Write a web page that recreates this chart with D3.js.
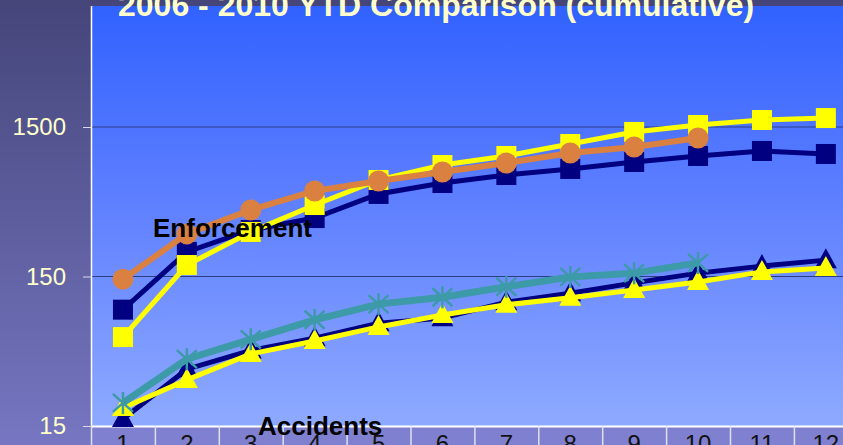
<!DOCTYPE html>
<html>
<head>
<meta charset="utf-8">
<script src="https://cdn.jsdelivr.net/npm/d3@7"></script>
<style>
  body { margin: 0; background: #4a4a7c; }
  svg { display: block; font-family: "Liberation Sans", Arial, sans-serif; }
</style>
</head>
<body>
<script>
// Data (log scale, cumulative counts by month)
const months = [1, 2, 3, 4, 5, 6, 7, 8, 9, 10, 11, 12];
const yTicks = [15, 150, 1500];

const enforcementNavy = [90, 219, 307, 369, 535, 633, 716, 786, 875, 960, 1037, 990];
const enforcementYellow = [59, 179, 298, 451, 663, 835, 960, 1154, 1390, 1547, 1671, 1722];
const enforcementOrange = [144, 289, 418, 560, 653, 750, 861, 1005, 1103, 1266];

const accidentsNavy = [16.7, 36, 48, 58, 73, 79, 101, 116, 136, 158, 176, 193];
const accidentsYellow = [19.8, 30.5, 45.5, 55.5, 69, 83, 97, 108, 122, 138, 161, 171];
const accidentsTeal = [21.4, 42, 57, 77, 98, 109, 128, 149, 158, 185];

const width = 843, height = 445;
const plot = { left: 91, top: 6, bottom: 426 };

const svg = d3.select("body").append("svg")
    .attr("width", width)
    .attr("height", height);

// Gradients
const defs = svg.append("defs");
const outerGrad = defs.append("linearGradient")
    .attr("id", "outerGrad").attr("x1", 0).attr("y1", 0).attr("x2", 0).attr("y2", 1);
outerGrad.append("stop").attr("offset", "0%").attr("stop-color", "#45457a");
outerGrad.append("stop").attr("offset", "100%").attr("stop-color", "#7676c2");

const plotGrad = defs.append("linearGradient")
    .attr("id", "plotGrad").attr("x1", 0).attr("y1", 0).attr("x2", 0).attr("y2", 1);
plotGrad.append("stop").attr("offset", "0%").attr("stop-color", "#3162ff");
plotGrad.append("stop").attr("offset", "45%").attr("stop-color", "#5d7eff");
plotGrad.append("stop").attr("offset", "100%").attr("stop-color", "#8eaaff");

defs.append("clipPath").attr("id", "plotClip")
    .append("rect").attr("x", plot.left).attr("y", 0)
    .attr("width", width - plot.left).attr("height", height);

// Background
svg.append("rect")
    .attr("width", width).attr("height", height)
    .attr("fill", "url(#outerGrad)");

svg.append("rect")
    .attr("x", plot.left).attr("y", plot.top)
    .attr("width", width - plot.left).attr("height", plot.bottom - plot.top)
    .attr("fill", "url(#plotGrad)");

// Category band below the axis
svg.append("rect")
    .attr("x", plot.left).attr("y", plot.bottom)
    .attr("width", width - plot.left).attr("height", height - plot.bottom)
    .attr("fill", "#8080d0");

// Scales
const xScale = d3.scaleBand()
    .domain(months)
    .range([plot.left, plot.left + 12 * 63.9]);

const yScale = d3.scaleLog()
    .domain([15, 15000])
    .range([plot.bottom, -22.5]);

const cx = d => xScale(d) + xScale.bandwidth() / 2;

// Gridlines
svg.append("g")
    .selectAll("line")
    .data(yTicks.slice(1))
    .join("line")
    .attr("x1", plot.left).attr("x2", width)
    .attr("y1", d => yScale(d)).attr("y2", d => yScale(d))
    .attr("stroke", "#2c3c86")
    .attr("stroke-width", 1.2);

// Y axis
const yAxis = svg.append("g")
    .attr("transform", `translate(${plot.left},0)`)
    .call(d3.axisLeft(yScale).tickValues(yTicks).tickFormat(d3.format("d")).tickSize(8).tickPadding(17));
yAxis.select(".domain").attr("stroke", "#ffffff").attr("stroke-width", 1.5)
    .attr("d", `M0.5,${plot.top}V${plot.bottom}`);
yAxis.selectAll(".tick line").attr("stroke", "#d8d8e8");
yAxis.selectAll(".tick text")
    .attr("fill", "#ffffcc")
    .style("font-size", "24px")
    .style("font-family", "Liberation Sans, Arial, sans-serif");

// X axis (band separators extend down)
const xAxis = svg.append("g")
    .attr("transform", `translate(0,${plot.bottom})`)
    .call(d3.axisBottom(xScale).tickSize(0).tickPadding(9));
xAxis.select(".domain").attr("stroke", "#ffffff").attr("stroke-width", 2);
xAxis.selectAll(".tick text")
    .attr("fill", "#111111")
    .style("font-size", "24px")
    .style("font-family", "Liberation Sans, Arial, sans-serif");
svg.append("g")
    .selectAll("line")
    .data(months)
    .join("line")
    .attr("x1", d => xScale(d) + 0.5).attr("x2", d => xScale(d) + 0.5)
    .attr("y1", plot.bottom).attr("y2", height)
    .attr("stroke", "#e0e0f0")
    .attr("stroke-width", 1.5);

// Series drawing
const chart = svg.append("g").attr("clip-path", "url(#plotClip)");

const line = d3.line()
    .x((d, i) => cx(months[i]))
    .y(d => yScale(d));

function drawSeries(values, color, lineWidth, marker) {
    const g = chart.append("g");
    g.append("path")
        .datum(values)
        .attr("d", line)
        .attr("fill", "none")
        .attr("stroke", color)
        .attr("stroke-width", lineWidth)
        .attr("stroke-linejoin", "miter");

    const pts = g.selectAll(".pt")
        .data(values)
        .join("g")
        .attr("transform", (d, i) => `translate(${cx(months[i])},${yScale(d)})`);

    if (marker === "square") {
        pts.append("rect")
            .attr("x", -10).attr("y", -10)
            .attr("width", 20).attr("height", 20)
            .attr("fill", color);
    } else if (marker === "circle") {
        pts.append("circle").attr("r", 10.5).attr("fill", color);
    } else if (marker === "triangle") {
        pts.append("path")
            .attr("d", "M0,-12L11,8L-11,8Z")
            .attr("fill", color);
    } else if (marker === "star") {
        pts.append("path")
            .attr("d", "M0,-11V11M-10,-9L10,9M-10,9L10,-9")
            .attr("stroke", color)
            .attr("stroke-width", 2.5)
            .attr("fill", "none");
    }
}

// Accidents
drawSeries(accidentsNavy, "#000080", 5, "triangle");
drawSeries(accidentsYellow, "#ffff00", 5, "triangle");
drawSeries(accidentsTeal, "#3d9aa8", 7, "star");

// Enforcement
drawSeries(enforcementNavy, "#000080", 5, "square");
drawSeries(enforcementYellow, "#ffff00", 5, "square");
drawSeries(enforcementOrange, "#da8040", 6, "circle");

// Labels
svg.append("text")
    .attr("x", 153).attr("y", 237)
    .style("font-size", "26px").style("font-weight", "bold")
    .attr("fill", "#000000")
    .text("Enforcement");

svg.append("text")
    .attr("x", 258).attr("y", 435)
    .style("font-size", "26px").style("font-weight", "bold")
    .attr("fill", "#000000")
    .text("Accidents");

// Title
svg.append("text")
    .attr("x", 118).attr("y", 16)
    .style("font-size", "32px").style("font-weight", "bold")
    .attr("fill", "#ffffcc")
    .text("2006 - 2010 YTD Comparison (cumulative)");
</script>
</body>
</html>
